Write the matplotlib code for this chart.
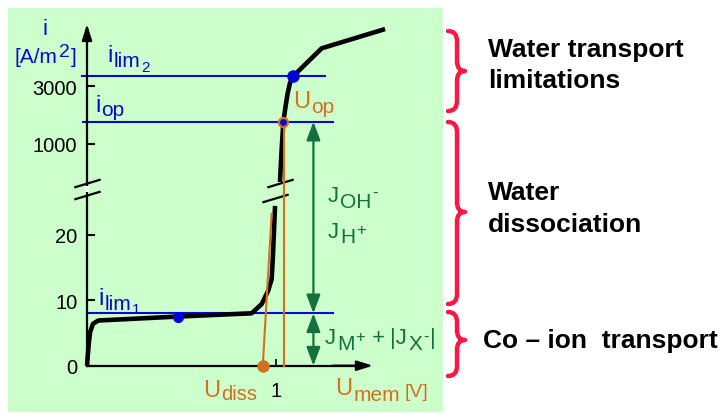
import numpy as np
import matplotlib
matplotlib.use("Agg")
import matplotlib.pyplot as plt
from matplotlib.path import Path
from matplotlib.patches import PathPatch

plt.rcParams["font.family"] = ["Liberation Sans", "DejaVu Sans"]

# ---- data: schematic current-voltage curve of a bipolar membrane ----
# lower branch (linear current axis), U_mem in V, i in A/m2
u_low = [0.0, 0.009, 0.016, 0.032, 0.060, 0.48, 0.871, 0.924, 0.958, 0.977, 0.983, 0.995]
i_low = [0.0, 3.3, 5.1, 6.4, 6.9, 7.5, 8.0, 9.4, 11.4, 13.2, 16.3, 24.4]
# upper branch (compressed current axis)
u_up = [1.021, 1.030, 1.039, 1.050, 1.061, 1.074, 1.092, 1.242, 1.577]
i_up = [485, 909, 1530, 2020, 2590, 3200, 3650, 6190, 8930]

i_lim1 = 8.0
i_op = 1530
i_lim2 = 3650
pt_lim1 = (0.48, 7.5)
pt_op = (1.039, 1530)
pt_lim2 = (1.092, 3650)
u_diss = 0.93
tangent_u = [0.93, 0.977]
tangent_i = [0.0, 23.2]
u_op_line = 1.042
u_flux = 1.198

y_ticks = [0, 10, 20, 1000, 3000]
y_ticklabels = ["0", "10", "20", "1000", "3000"]
x_ticks = [1]
x_ticklabels = ["1"]

# ---- broken current axis: linear below the break, logarithmic above ----
K_LIN, V_LOW = 6.55, 26.0
K_LOG, F_1000, V_UP = 120.9, 221.7, 470.0
F_LOW = V_LOW * K_LIN
F_UP = F_1000 + K_LOG * np.log10(V_UP / 1000.0)


def fwd(v):
    v = np.asarray(v, dtype=float)
    lin = v * K_LIN
    mid = F_LOW + (v - V_LOW) / (V_UP - V_LOW) * (F_UP - F_LOW)
    lg = F_1000 + K_LOG * np.log10(np.maximum(v, V_UP) / 1000.0)
    return np.where(v <= V_LOW, lin, np.where(v < V_UP, mid, lg))


def inv(f):
    f = np.asarray(f, dtype=float)
    lin = f / K_LIN
    mid = V_LOW + (f - F_LOW) / (F_UP - F_LOW) * (V_UP - V_LOW)
    lg = 1000.0 * 10 ** ((np.maximum(f, F_UP) - F_1000) / K_LOG)
    return np.where(f <= F_LOW, lin, np.where(f < F_UP, mid, lg))


W, H = 721, 414
fig = plt.figure(figsize=(W / 100, H / 100), dpi=100)
renderer = fig.canvas.get_renderer()

GREEN_BG = "#ccffcc"
BLUE = "#0a0acc"
ORANGE = "#d2711c"
DGREEN = "#14703c"
RED = "#ff1744"

# panel spans pixels x 8..443, y 9..413; origin of the graph at (87, 366.7)
PX_PER_V, X_ORIG = 189.0, 87.0
ax = fig.add_axes([8 / W, 1 / H, 435 / W, 404 / H], facecolor=GREEN_BG)
ax.set_yscale("function", functions=(fwd, inv))
ax.set_xlim((8 - X_ORIG) / PX_PER_V, (443 - X_ORIG) / PX_PER_V)
ax.set_ylim(float(inv(366.7 - 413)), float(inv(366.7 - 9)))

for side in ("top", "right"):
    ax.spines[side].set_visible(False)
ax.spines["left"].set_position(("data", 0))
ax.spines["bottom"].set_position(("data", 0))
ax.spines["left"].set_bounds(0, 9000)
ax.spines["bottom"].set_bounds(0, 1.45)
for side in ("left", "bottom"):
    ax.spines[side].set_linewidth(1.6)

ax.set_yticks(y_ticks, y_ticklabels)
ax.set_xticks(x_ticks, x_ticklabels)
ax.yaxis.set_minor_locator(matplotlib.ticker.NullLocator())
ax.xaxis.set_minor_locator(matplotlib.ticker.NullLocator())
ax.tick_params(axis="y", direction="in", length=6, width=1.5, pad=7, labelsize=14.5)
ax.tick_params(axis="x", direction="in", length=5, width=1.2, pad=11, labelsize=14.5)

# axis arrows
arrow_kw = dict(arrowstyle="-|>,head_length=0.8,head_width=0.25", lw=1.6, color="k",
                shrinkA=0, shrinkB=0, mutation_scale=12)
ax.annotate("", xy=(0, 9830), xytext=(0, 8000), arrowprops=arrow_kw)
ax.annotate("", xy=(1.513, 0), xytext=(1.3, 0), arrowprops=arrow_kw)

# gap in the current axis at the break
ax.plot([0, 0], [150, 380], color="white", lw=2.6, solid_capstyle="butt", zorder=3)

# horizontal reference currents
ax.plot([0, 1.30], [i_lim1, i_lim1], color=BLUE, lw=1.5, zorder=2)
ax.plot([-0.021, 1.30], [i_op, i_op], color=BLUE, lw=1.5, zorder=2)
ax.plot([-0.026, 1.26], [i_lim2, i_lim2], color=BLUE, lw=1.5, zorder=2)

# membrane curve
ax.plot(u_low, i_low, color="k", lw=3.3, solid_capstyle="butt", solid_joinstyle="round", zorder=4)
ax.plot(u_up, i_up, color="k", lw=3.3, solid_capstyle="butt", solid_joinstyle="round", zorder=4)

# break marks
brk = Path([(-1, -0.3), (1, 0.3)], [Path.MOVETO, Path.LINETO])
ax.plot([0, 0], [26, 472], ls="none", marker=brk, ms=19, mew=1.6, mec="k", zorder=5)
ax.plot([0.996, 1.021], [25.6, 472], ls="none", marker=brk, ms=19, mew=1.6, mec="k", zorder=5)

# dissociation voltage tangent and operating voltage
ax.plot(tangent_u, tangent_i, color=ORANGE, lw=1.5, zorder=5)
ax.plot([u_op_line, u_op_line], [0, i_op], color=ORANGE, lw=1.5, zorder=5)

# points
ax.plot(*pt_lim1, "o", color="#0000dd", ms=7, zorder=6)
ax.plot(*pt_lim2, "o", color="#0000dd", ms=8, zorder=6)
ax.plot(*pt_op, "o", mfc="#0000dd", mec=ORANGE, mew=1.6, ms=6.5, zorder=6)
ax.plot(u_diss, 0, "o", color=ORANGE, ms=8, zorder=6, clip_on=False)

# flux arrows
flux_kw = dict(arrowstyle="<|-|>,head_length=1.6,head_width=0.6", lw=1.6, color=DGREEN,
               shrinkA=0, shrinkB=0, mutation_scale=7)
ax.annotate("", xy=(u_flux, i_op), xytext=(u_flux, i_lim1), arrowprops=flux_kw)
ax.annotate("", xy=(u_flux, i_lim1), xytext=(u_flux, 0), arrowprops=flux_kw)


# ---- labels made of pieces with their own size and baseline shift ----
def rich(x, y, pieces, color, weight="normal"):
    for piece in pieces:
        s, size, dy = piece[:3]
        gap = piece[3] if len(piece) > 3 else 0
        x += gap
        t = fig.text(x / W, 1 - (y + dy) / H, s, fontsize=size, color=color,
                     ha="left", va="baseline", fontweight=weight)
        x += t.get_window_extent(renderer).width


rich(43, 35, [("i", 16, 0)], BLUE)
rich(15, 63, [("[A/m", 15, 0), ("2", 14, -6, 1), ("]", 15, 0, 1)], BLUE)
rich(107, 62, [("i", 17, 0), ("lim", 15, 5, 1), ("2", 11, 10, 1)], BLUE)
rich(95, 112, [("i", 17, 0), ("op", 15, 4, 1)], BLUE)
rich(98, 305, [("i", 17, 0), ("lim", 15, 5, 1), ("1", 11, 9, 1)], BLUE)

rich(293, 108, [("U", 17, 0), ("op", 15, 5, 1)], ORANGE)
rich(203, 397, [("U", 17, 0), ("diss", 14.5, 3, 1)], ORANGE)
rich(335, 395, [("U", 17, 0), ("mem", 15, 6, 1), ("[V]", 14, 2, 5)], ORANGE)

rich(328, 202, [("J", 16, 0), ("OH", 15, 6, 1), ("-", 12, -4, 1)], DGREEN)
rich(328, 238, [("J", 16, 0), ("H", 15, 5, 1), ("+", 12, -3, 1)], DGREEN)
rich(325, 344, [("J", 16, 0), ("M", 15, 6, 1), ("+", 12, -2, 1), ("+", 16, 0, 6),
                ("|J", 16, 0, 6), ("X", 15, 6, 1), ("-", 12, -2, 1), ("|", 16, 0, 1)], DGREEN)

# ---- region braces and captions ----
def brace(x0, ytop, ybot, ytip):
    xm, xt, r = x0 + 9, x0 + 17, 10
    verts = [(x0, ytop), (xm, ytop), (xm, ytop + r), (xm, ytip - r), (xm, ytip), (xt, ytip),
             (xm, ytip), (xm, ytip + r), (xm, ybot - r), (xm, ybot), (x0, ybot)]
    codes = [Path.MOVETO, Path.CURVE3, Path.CURVE3, Path.LINETO, Path.CURVE3, Path.CURVE3,
             Path.CURVE3, Path.CURVE3, Path.LINETO, Path.CURVE3, Path.CURVE3]
    verts = [(vx / W, 1 - vy / H) for vx, vy in verts]
    fig.add_artist(PathPatch(Path(verts, codes), fill=False, ec=RED, lw=3.2,
                             transform=fig.transFigure, capstyle="round", joinstyle="round"))


brace(448, 32, 112, 72)
brace(448, 123, 305, 213)
brace(448, 313, 377, 341)

cap_kw = dict(fontsize=19, fontweight="bold", color="k", ha="left", va="baseline")
fig.text(488 / W, 1 - 57 / H, "Water transport", **cap_kw)
fig.text(488 / W, 1 - 88 / H, "limitations", **cap_kw)
fig.text(488 / W, 1 - 200 / H, "Water", **cap_kw)
fig.text(488 / W, 1 - 232 / H, "dissociation", **cap_kw)
fig.text(483 / W, 1 - 348 / H, "Co \u2013 ion  transport", **cap_kw)

fig.savefig("out.png", dpi=100, facecolor="white")
